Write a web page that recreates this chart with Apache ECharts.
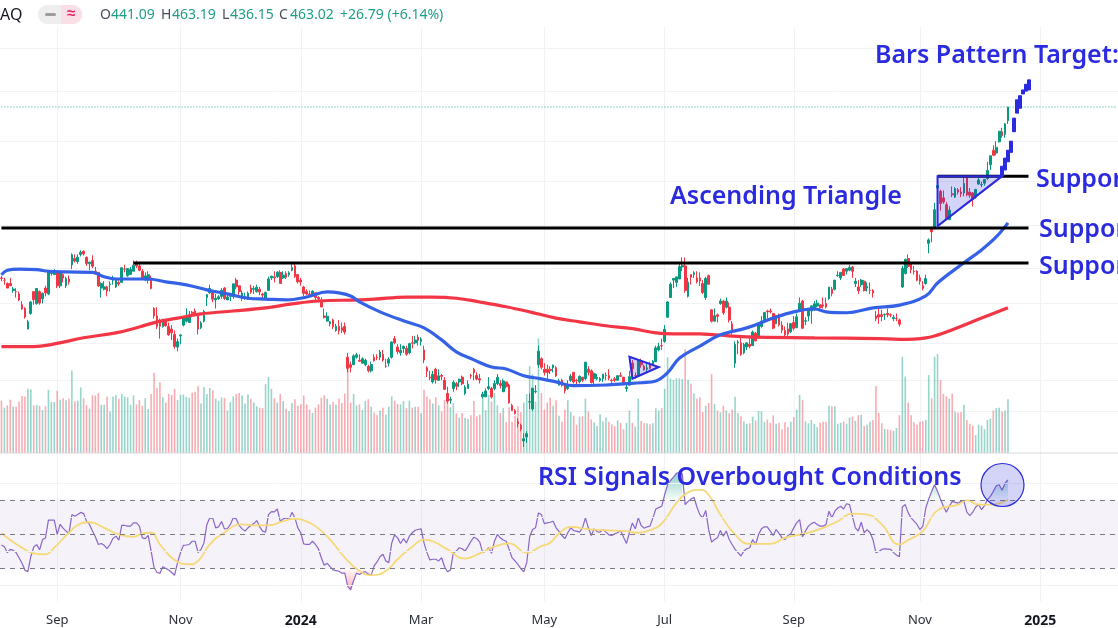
<!DOCTYPE html>
<html>
<head>
<meta charset="utf-8">
<title>TSLA</title>
<script src="https://cdn.jsdelivr.net/npm/echarts@6/dist/echarts.min.js"></script>
<style>
  html, body { margin: 0; padding: 0; background: #fff; }
  #main { width: 1118px; height: 628px; }
</style>
</head>
<body>
<div id="main"></div>
<script>
// one line per month, Aug 2023 -> Dec 2024
const opens = [
  252,250,247,247,241,240,238,229,226,210,222,240,230,240,234,243,238,256,255,
  257,245,255,245,251,264,270,267,274,277,271,265,268,258,257,243,242,244,246,250,
  244,248,248,260,254,255,258,266,263,258,250,250,252,226,220,215,212,216,212,210,206,197,
  205,213,216,215,223,224,220,211,216,235,239,239,233,234,236,243,233,236,236,250,245,
  234,235,234,243,242,240,242,238,234,241,252,253,253,257,252,256,255,259,263,255,
  250,244,240,238,237,239,235,231,220,216,214,217,209,212,211,212,190,185,185,190,188,
  186,185,184,181,190,190,190,192,184,186,190,203,197,193,196,196,193,200,200,204,
  201,195,183,177,174,182,175,178,175,167,163,170,173,174,177,167,170,178,182,178,
  176,165,165,170,170,170,173,173,168,174,172,160,157,151,149,141,143,162,158,168,185,189,
  182,182,182,183,183,172,175,173,170,175,180,175,174,177,176,182,181,176,176,175,176,178,
  178,175,176,175,178,177,170,172,186,178,178,187,184,182,185,185,187,195,198,
  201,219,235,250,248,251,262,263,236,255,255,252,252,247,235,254,225,216,221,230,232,227,
  227,214,186,200,200,193,197,199,198,207,205,212,217,224,224,222,214,219,213,209,210,208,
  215,211,224,232,216,220,224,225,228,229,229,230,234,242,242,254,252,260,258,259,
  262,247,244,246,249,243,241,241,220,221,221,221,222,221,218,218,217,244,256,270,265,258,258,
  252,245,247,285,300,300,347,343,335,327,310,340,336,345,342,341,360,342,341,336,
  352,351,353,359,377,397,393,409,424,420,441
];
const highs = [
  254,252,248,252,244,243,240,232,227,217,232,240,243,241,239,245,258,258,260,
  259,258,256,253,254,275,274,274,278,278,272,267,273,262,257,248,249,245,249,254,
  252,250,262,264,261,262,268,268,265,260,257,258,254,227,227,218,218,217,215,213,209,203,
  206,219,226,224,224,226,220,216,225,238,246,240,238,237,243,244,238,238,247,252,245,
  241,239,240,246,245,246,244,239,240,253,254,258,258,259,258,258,258,265,266,255,
  252,245,242,241,241,239,236,235,226,223,215,218,214,217,215,215,193,187,192,193,192,
  190,189,185,187,192,192,195,195,189,190,201,205,199,199,198,198,200,205,205,206,
  204,198,184,181,181,183,182,179,177,171,165,175,174,176,178,172,175,179,183,180,
  179,168,170,177,171,175,179,175,176,174,173,161,158,153,150,145,146,167,170,172,198,190,
  186,185,184,185,184,176,176,173,175,179,180,176,178,177,187,184,182,180,179,177,179,180,
  182,176,177,178,180,177,173,181,188,180,188,189,185,186,187,188,198,200,203,
  213,232,248,252,253,266,271,271,252,255,258,258,257,250,253,255,225,226,222,234,233,235,
  231,216,201,202,204,200,200,204,209,208,215,220,223,225,226,222,221,222,216,212,215,214,
  220,222,235,233,219,226,228,232,233,229,235,235,244,244,250,258,257,261,261,264,
  263,252,250,251,250,248,248,242,224,226,225,222,226,222,221,222,218,263,270,274,265,263,259,
  255,249,255,290,300,329,358,345,344,330,325,349,348,347,348,361,361,347,342,346,
  360,355,358,381,389,404,410,425,430,437,463
];
const lows = [
  249,246,243,245,239,235,232,225,218,212,221,229,229,229,230,236,237,254,255,
  243,243,248,243,246,260,266,265,272,273,263,259,261,255,244,235,241,236,240,246,
  243,245,248,257,253,255,258,261,258,251,249,247,242,218,210,203,211,212,205,202,196,194,
  199,212,215,215,219,220,206,210,215,228,238,231,226,233,234,233,233,232,234,242,236,
  232,233,233,238,238,239,237,234,234,241,250,248,252,247,251,251,253,258,252,247,
  245,236,237,235,236,233,231,227,218,216,212,210,208,206,207,206,180,180,185,189,187,
  186,184,180,180,187,188,188,187,183,184,189,199,192,191,193,191,192,196,199,198,
  198,186,177,175,173,173,175,175,169,161,161,168,169,171,172,166,170,176,175,175,
  173,164,165,169,164,169,172,170,168,170,161,157,155,148,146,138,140,158,157,167,183,182,
  178,176,179,180,177,172,171,167,169,174,173,172,173,174,175,178,173,172,175,174,174,175,
  175,172,174,175,177,173,168,172,178,176,177,183,181,180,182,185,187,194,195,
  200,219,235,243,244,251,258,239,235,246,252,247,245,238,233,246,215,216,215,229,221,226,
  215,206,183,192,191,192,195,196,198,201,204,211,217,218,222,210,214,212,207,203,205,207,
  209,211,223,210,213,216,214,224,227,224,226,226,233,236,241,253,250,254,255,258,
  252,244,238,244,240,240,238,235,216,214,216,217,219,219,216,216,212,243,255,261,256,255,249,
  246,241,246,275,286,300,343,320,328,310,310,336,335,339,336,337,337,335,325,334,
  351,348,350,357,370,390,390,408,415,415,436
];
const closes = [
  251.5,250,243,245,242.2,239.8,233,225.6,219.2,215.5,231.3,233.2,242.7,230.4,238.6,238.8,257.2,256.9,258.1,
  245,256.5,251.9,251.5,248.5,273.6,267.5,271.3,276,274.4,265.3,266.5,262.6,255.7,244.9,247,244.1,240.5,246.4,250.2,
  251.6,246.5,261.2,260,260.5,259.7,263.6,263,258.9,251.1,253.9,254.9,242.7,220.1,212,212.1,216.5,212.4,205.8,207.3,197.4,200.8,
  205.7,218.5,220,219.3,222.2,222.1,210,214.7,223.7,237.4,242.8,233.6,234.3,235.6,241.2,234.2,235.5,236.1,246.7,244.1,240.1,
  238.8,235.6,238.7,239.4,242.6,243.8,239.7,237,239.3,251.1,253.5,252.1,257.2,247.1,254.5,252.5,256.6,261.4,253.2,248.5,
  248.4,238.5,237.9,237.5,240.5,235,233.9,227.2,218.9,219.9,215.6,211.9,212.2,208.8,209.1,207.8,182.6,183.3,190.9,191.6,187.3,
  188.9,187.9,181.1,185.1,187.6,189.6,193.6,188.1,184,188.7,200.5,200,193.8,194.8,197.4,192,199.4,199.7,202,201.9,
  202.6,188.1,180.7,176.5,178.7,175.3,177.8,177.5,169.5,162.5,163.6,173.8,171.3,175.7,172.8,170.8,172.6,177.7,179.8,175.8,
  175.2,166.6,168.4,171.1,164.9,173,176.9,171.8,174.6,171.1,161.5,157.1,155.5,149.9,147.1,142.1,144.7,162.1,170.2,168.3,194.1,183.3,
  180,180,181.2,184.8,177.8,174.7,172,168.5,171.9,177.6,174,174.8,177.5,175,186.6,180.1,173.7,179.2,176.8,176.2,178.8,178.1,
  176.3,174.8,175,177.9,177.5,173.8,170.7,177.3,182.5,178,187.4,184.9,181.6,183,182.6,187.4,196.4,197.4,197.9,
  209.9,231.3,246.4,251.5,252.9,262.3,263.3,241,248.2,252.6,256.6,248.5,249.2,239.2,251.5,246.4,216,220.3,219.8,232.1,222.6,232.1,
  216.9,207.7,198.9,200.6,191.8,198.8,200,197.5,207.8,201.4,214.1,216.1,222.7,223.3,223.3,210.7,220.3,213.2,209.2,205.8,206.3,214.1,
  210.6,219.4,230.2,210.7,216.3,226.2,228.1,229.8,230.3,226.8,227.9,227.2,243.9,238.3,250,254.3,257,254.2,260.5,261.6,
  258,249,240.7,250,240.8,244.5,241,238.8,217.8,219.2,219.6,221.3,220.9,220.7,218.9,218,213.7,260.5,269.2,262.5,259.5,257.6,249.9,
  249,242.8,251.4,288.5,296.9,321.2,350,328.5,330.2,311.2,320.7,338.7,346,342,339.6,352.6,338.6,338.2,332.9,345.2,
  357.1,351.4,357.9,369.5,389.2,389.8,401,424.8,418.1,436.2,463
];
const volumes = [
  111,96,101,113,98,98,109,121,120,136,135,101,102,100,91,99,134,108,108,
  132,113,116,112,115,175,109,111,139,116,101,94,122,122,127,102,102,119,88,120,
  123,115,125,120,118,102,122,103,112,100,116,93,125,170,138,150,118,107,125,123,136,112,
  123,124,119,117,128,130,142,105,140,125,138,133,115,110,118,117,90,108,120,125,127,
  122,105,124,115,107,99,96,95,146,161,136,116,107,125,110,94,89,106,114,100,
  104,122,103,92,85,96,103,117,122,115,103,108,102,115,106,126,198,107,125,101,103,
  91,110,114,98,86,80,90,96,81,98,120,111,104,103,110,95,111,96,98,98,
  84,134,119,114,105,118,101,88,112,127,97,106,84,75,85,74,72,80,110,78,
  81,116,91,123,109,127,101,85,95,65,97,66,79,99,87,107,125,184,167,109,243,127,
  92,107,117,100,112,79,66,92,112,87,79,60,77,78,115,88,71,65,57,82,67,75,
  66,61,57,69,64,50,64,90,64,56,115,68,63,63,61,63,95,90,95,
  136,203,158,155,158,158,157,220,155,147,126,115,118,87,100,106,167,104,90,86,100,90,
  84,92,119,85,78,67,62,63,77,69,89,88,66,71,64,80,62,64,50,65,55,66,
  76,92,123,112,67,63,70,62,55,64,66,66,100,99,99,62,64,67,62,75,
  77,68,80,81,57,60,66,70,142,85,63,51,50,49,47,53,80,204,162,107,80,65,60,
  66,68,70,165,116,204,210,155,125,120,115,126,88,86,87,102,70,62,58,38,
  60,58,50,70,73,90,95,96,88,90,114
];
const rsiValues = [
  43.8,42.8,39.3,41.2,40.6,39.3,36.3,33,29,28.1,37,42.6,44,41,47,47.9,58.4,58.4,58.4,50,
  56,53.7,52,50.6,61.7,60.7,61.7,63,62.3,57.8,55.9,52,48.6,44.1,44.7,43.6,41.6,44.1,47.7,49,
  46.7,55.3,55.3,54.9,54.9,56.8,56.8,54.9,48,47.5,49.4,40.2,30.5,27.6,27.2,31,30,29.1,27.6,26,
  33.4,39.3,43.6,43.8,44.1,46,46,39.3,41.2,45,55.9,59.8,59.6,53.9,54.5,57.6,53.3,53.5,55.9,59.8,
  59.2,55.3,53.3,52,53.9,55.3,56.4,58.2,54.5,52,51.4,61.7,63.5,63.3,65,57.8,59.2,59.8,58.8,63,
  59.8,53.9,51,44.5,44.1,44.1,46,44.1,41.6,36.3,31.9,33,31,29.1,28.7,28.3,27.2,27.2,19.4,17.4,
  22.7,27.2,26.4,27.6,28.1,26.6,26,31.5,33.8,36.9,38.3,34.4,33.4,45,49.8,48,44.7,47.5,45,49,
  51,52.5,52.9,53.3,45,39.3,35,35.4,35.4,34.4,36.3,31,28,29.1,39.3,40.2,42.2,41.6,40.2,43,
  46,48.4,47.5,45.5,39.3,40.2,42.2,38.9,46,50,48,46.7,46,41.2,36.3,34.4,32.4,29.9,28,33.4,
  48.6,52.9,53.9,62.7,61.7,56.4,56.8,57.2,57.8,53.9,51.8,49.4,47.5,51,53.9,52.3,52,51.4,53.9,59.8,
  53.9,49.4,53.3,51.6,51.4,52.9,51.4,49.8,49.4,50.4,51,52.3,48.4,44.7,51,56.8,53.3,59.8,55.3,53.7,
  54.5,54.9,59.8,65,65.8,66.6,73.4,79.3,81.8,83.8,86,86.5,85.7,67.6,69.5,70.9,71.9,66.2,61.7,59.8,
  64.2,52.9,45.5,47,48,52.3,49,52,47,44.1,41.2,39.3,37.3,40.2,41.6,42.2,47,44.1,50,53.3,
  54.5,54.5,52,49.4,52.9,50.6,48,47,49.4,50.4,53.9,56.8,58.8,48.6,52,54.9,56.4,57.2,55.9,54.9,
  54.9,55.9,63.7,59.8,63.7,65.6,66.6,65,68.1,67.6,60.7,53.9,52,57.2,51,52.9,51,47,39.3,40,
  41.2,41.6,41.4,41.2,39.3,37.9,36.9,66.2,67.6,62.7,59.8,57.8,55.9,52.9,54.9,65.6,70.9,75.4,79.3,75.4,
  70.9,66.6,63.1,66.6,69.5,68.9,68.5,69.5,69.5,63.1,61.1,63.1,66.2,67.6,64.6,67,70.5,72.4,75.4,78.7,
  79.3,76,80.2,82.2
];
const rsiMaPoints = [
  [0,51],[2,48],[7,42.2],[11,38.9],[15,38.3],[18,42.2],[23,51],[27,56.4],[30,57.2],[35,53.9],[40,50],[45,48.6],
  [48,50.6],[51,51],[54,44.1],[59,35],[64,32.4],[67,34.4],[71,44.1],[75,50],[82,55.9],[87,55.3],[91,55.3],[96,57.8],
  [100,59.2],[103,58.4],[107,54.9],[112,47],[117,36.3],[122,28.5],[126,26],[131,28.5],[135,35.4],[140,42.8],[144,47],
  [147,46],[152,41.2],[158,35.8],[163,38.9],[168,42.8],[173,44.7],[179,39.3],[184,43.2],[187,45.1],[190,50.6],[194,54.5],
  [199,53.3],[205,52.5],[213,52],[216,51],[221,52.5],[225,56.4],[230,68.5],[234,74.8],[238,76.3],[241,73.4],[245,61.7],
  [250,50],[255,44.5],[262,44.5],[267,48],[274,50.6],[280,53.9],[285,57.8],[290,62.3],[295,61.7],[300,55.9],[306,44.1],
  [309,46.7],[314,52],[319,64.2],[326,67.6],[329,70.1],[333,67.6],[337,67.6],[343,70.5]
];
const ma50Points = [
  [0,254.8],[2,259],[6,260],[12,259.5],[16,258],[22,257.4],[31,257],[35,253],[39,251],[45,251],[50,251],[56,248.5],
  [63,245.8],[70,241.5],[77,238],[84,234.4],[90,233.7],[97,233],[104,235.4],[111,239.7],[115,238.9],[119,236.3],
  [122,231.3],[129,223.3],[138,215.5],[144,210.9],[150,202.1],[155,193.7],[161,188.2],[167,183.5],[172,182.2],
  [178,177.9],[184,175.9],[189,174],[195,171.7],[206,172.1],[213,172.9],[218,173.5],[223,174.6],[227,179.8],[231,189.3],
  [238,197.7],[245,205.8],[254,210.9],[263,218.4],[270,223.3],[277,225.7],[281,223.3],[288,222.6],[297,226.5],
  [306,228.7],[315,236.3],[319,247.5],[328,265.9],[334,278.4],[339,291.5],[343,306.5]
];
const ma200Points = [
  [0,197.3],[11,197.3],[18,199.2],[28,203.6],[39,207.2],[47,211.6],[53,215.5],[60,218.4],[68,221.7],[79,224],[90,226.5],
  [99,229.7],[108,232.1],[122,233],[127,233.6],[138,235.4],[147,235.4],[155,234.4],[163,231.3],[172,227.4],[180,223.3],
  [189,218.4],[197,215.5],[206,212.5],[215,210.3],[223,207.2],[229,206.5],[238,206.5],[243,205.8],[254,204.3],[277,203.6],
  [299,203],[306,202.5],[315,203.6],[322,207.9],[334,218.4],[343,226.5]
];

// projected "bars pattern" after the breakout
const patternStart = 341;
const patternFrom = [362,370,381,394,424,453,461,485,490,492];
const patternTo = [375,386,397,410,445,475,482,492,502,510];

const supportUpper = [[319,362],[350,362]];
const supportMiddle = [[0,301],[350,301]];
const supportLower = [[45,265.7],[350,265.7]];
const priceLine = [[0,463.02],[380,463.02]];
const triangles = [
  [[319,362],[341,362],[319,303]],
  [[214,190.3],[224,183.5],[215,176]]
];

const gridPrices = [571,489,410,355,304,261,230,200,175,157];
const gridRsi = [80,60,40,20];
const rsiBands = [70,50,30];

const tickIndex = [19,61,102,143,185,226,270,313,354];
const tickLabels = ['Sep','Nov','2024','Mar','May','Jul','Sep','Nov','2025'];
const tickBold = ['2024','2025'];
const categories = [];
for (let i = 0; i < 381; i++) categories.push('d' + i);

const UP = '#089981', DOWN = '#f23645', BLUE = '#2a2adf';
const HEAD_GREEN = '#1f9e89';
const GRID_LINE = '#f0f2f6';
const TEXT_FONT = '"Noto Sans", sans-serif';

var myChart = echarts.init(document.getElementById('main')); // eslint-disable-line

const isTick = function (index) { return tickIndex.indexOf(index) >= 0; };
const hLines = function (vals) {
  return {
    silent: true, symbol: 'none', animation: false,
    label: {show: false},
    lineStyle: {color: GRID_LINE, width: 1, type: 'solid'},
    data: vals.map(function (v) { return {yAxis: v}; })
  };
};
const thinLine = function (data, color, width) {
  return {
    type: 'line', data: data, xAxisIndex: 0, yAxisIndex: 0, showSymbol: false, silent: true,
    smooth: 0.4, lineStyle: {color: color, width: width}, z: 4
  };
};
const straightLine = function (data) {
  return {
    type: 'line', data: data, xAxisIndex: 0, yAxisIndex: 0, showSymbol: false, silent: true,
    lineStyle: {color: '#000', width: 3}, z: 5
  };
};

const candleData = opens.map(function (o, i) { return [o, closes[i], lows[i], highs[i]]; });
const patternData = categories.map(function (c, i) {
  const k = i - patternStart;
  if (k < 0 || k >= patternFrom.length) return ['-', '-', '-', '-'];
  return [patternFrom[k], patternTo[k], patternFrom[k], patternTo[k]];
});
const rsiOver = rsiValues.map(function (v) { return v > 70 ? v : null; });
const rsiUnder = rsiValues.map(function (v) { return v < 30 ? v : null; });

const headText = function (text, x, color) {
  return {type: 'text', x: x, y: 15, z: 52, style: {text: text, fill: color, font: '14px ' + TEXT_FONT, verticalAlign: 'middle'}};
};
const noteText = function (text, x, y) {
  return {type: 'text', x: x, y: y, z: 60, style: {text: text, fill: BLUE, font: '600 25px ' + TEXT_FONT, verticalAlign: 'middle'}};
};

const option = {
  animation: false,
  grid: [
    {left: -1, width: 1119, top: 0, height: 453},
    {left: -1, width: 1119, top: 453, height: 150}
  ],
  xAxis: [
    {
      type: 'category', gridIndex: 0, data: categories,
      axisLine: {show: false}, axisTick: {show: false}, axisLabel: {show: false},
      splitLine: {show: true, interval: isTick, alignWithLabel: true, lineStyle: {color: GRID_LINE}}
    },
    {
      type: 'category', gridIndex: 1, data: categories,
      axisLine: {show: false}, axisTick: {show: false},
      axisLabel: {
        interval: isTick, margin: 12, fontSize: 13, color: '#2a2e39', fontFamily: TEXT_FONT,
        formatter: function (value, index) {
          const label = tickLabels[tickIndex.indexOf(index)];
          return tickBold.indexOf(label) >= 0 ? '{b|' + label + '}' : label;
        },
        rich: {b: {fontWeight: 'bold', fontSize: 14, color: '#131722', fontFamily: TEXT_FONT}}
      },
      splitLine: {show: true, interval: isTick, alignWithLabel: true, lineStyle: {color: GRID_LINE}}
    }
  ],
  yAxis: [
    {type: 'log', gridIndex: 0, min: 135.1, max: 677.7, show: false, splitLine: {show: false}},
    {type: 'value', gridIndex: 0, min: 0, max: 960, show: false, splitLine: {show: false}},
    {type: 'value', gridIndex: 1, min: 10.2, max: 98, show: false, splitLine: {show: false}}
  ],
  series: [
    {
      type: 'bar', data: volumes, xAxisIndex: 0, yAxisIndex: 1, barWidth: 1.6, silent: true, z: 1,
      itemStyle: {
        opacity: 0.42,
        color: function (p) { return closes[p.dataIndex] >= opens[p.dataIndex] ? UP : DOWN; }
      }
    },
    {
      type: 'candlestick', data: candleData, xAxisIndex: 0, yAxisIndex: 0, barWidth: 2.2, silent: true, z: 3,
      itemStyle: {color: UP, color0: DOWN, borderColor: UP, borderColor0: DOWN, borderWidth: 1},
      markLine: Object.assign(hLines(gridPrices), {z: 1})
    },
    {
      type: 'line', data: priceLine, xAxisIndex: 0, yAxisIndex: 0, showSymbol: false, silent: true, z: 2,
      lineStyle: {color: '#26a69a', width: 1, type: [1, 2]}
    },
    thinLine(ma200Points, '#f23645', 3.2),
    thinLine(ma50Points, '#3461e6', 3.2),
    straightLine(supportUpper),
    straightLine(supportMiddle),
    straightLine(supportLower),
    {
      type: 'custom', xAxisIndex: 0, yAxisIndex: 0, silent: true, z: 6,
      data: triangles.map(function (t, i) { return [i]; }),
      encode: {x: 0},
      clip: false,
      renderItem: function (params, api) {
        return {
          type: 'polygon',
          shape: {points: triangles[params.dataIndex].map(function (v) { return api.coord(v); })},
          style: {fill: 'rgba(42,42,223,0.2)', stroke: BLUE, lineWidth: 2}
        };
      }
    },
    {
      type: 'candlestick', data: patternData, xAxisIndex: 0, yAxisIndex: 0, barWidth: 3.5, silent: true, z: 7,
      itemStyle: {color: BLUE, color0: BLUE, borderColor: BLUE, borderColor0: BLUE, borderWidth: 1}
    },
    {
      type: 'line', data: rsiOver, xAxisIndex: 1, yAxisIndex: 2, showSymbol: false, silent: true, z: 2,
      connectNulls: false, lineStyle: {width: 0},
      areaStyle: {
        origin: 70,
        color: {type: 'linear', x: 0, y: 0, x2: 0, y2: 1, colorStops: [
          {offset: 0, color: 'rgba(8,153,129,0.65)'}, {offset: 1, color: 'rgba(8,153,129,0.03)'}
        ]}
      }
    },
    {
      type: 'line', data: rsiUnder, xAxisIndex: 1, yAxisIndex: 2, showSymbol: false, silent: true, z: 2,
      connectNulls: false, lineStyle: {width: 0},
      areaStyle: {
        origin: 30,
        color: {type: 'linear', x: 0, y: 0, x2: 0, y2: 1, colorStops: [
          {offset: 0, color: 'rgba(242,54,69,0.03)'}, {offset: 1, color: 'rgba(242,54,69,0.55)'}
        ]}
      }
    },
    {
      type: 'line', data: rsiValues, xAxisIndex: 1, yAxisIndex: 2, showSymbol: false, silent: true, z: 3,
      lineStyle: {color: '#7e57c2', width: 1.2, opacity: 0.9},
      markArea: {
        silent: true,
        itemStyle: {color: 'rgba(126,87,194,0.08)'},
        data: [[{yAxis: 70}, {yAxis: 30}]]
      },
      markLine: {
        silent: true, symbol: 'none', label: {show: false},
        lineStyle: {color: '#787b86', width: 1, type: [5, 5]},
        data: rsiBands.map(function (v) { return {yAxis: v}; })
      }
    },
    {
      type: 'line', data: [], xAxisIndex: 1, yAxisIndex: 2, silent: true, markLine: hLines(gridRsi)
    },
    {
      type: 'line', data: rsiMaPoints, xAxisIndex: 1, yAxisIndex: 2, showSymbol: false, silent: true, z: 4,
      smooth: 0.5, lineStyle: {color: '#f6d976', width: 1.8}
    }
  ],
  graphic: [
    {type: 'rect', shape: {x: 0, y: 0, width: 1118, height: 27}, style: {fill: '#fff'}, z: 50},
    {type: 'line', shape: {x1: 0, y1: 453, x2: 1118, y2: 453}, style: {stroke: '#d9d9dc', lineWidth: 1}, z: 50},
    {type: 'text', x: 0, y: 15, z: 51, style: {text: 'AQ', fill: '#131722', font: '16px ' + TEXT_FONT, verticalAlign: 'middle'}},
    {type: 'rect', shape: {x: 38, y: 5, width: 44, height: 19, r: 9}, style: {fill: '#eeeeef'}, z: 51},
    {type: 'rect', shape: {x: 61, y: 5, width: 21, height: 19, r: [0, 9, 9, 0]}, style: {fill: '#fbdfe6'}, z: 51},
    {type: 'rect', shape: {x: 45, y: 13, width: 11, height: 3, r: 1.5}, style: {fill: '#9b9ba0'}, z: 52},
    {type: 'text', x: 71, y: 14, z: 52, style: {text: '\u2248', fill: '#e91e63', font: 'bold 15px ' + TEXT_FONT, align: 'center', verticalAlign: 'middle'}},
    headText('O', 100, '#4a4e59'), headText('441.09', 111, HEAD_GREEN),
    headText('H', 161, '#4a4e59'), headText('463.19', 172, HEAD_GREEN),
    headText('L', 222, '#4a4e59'), headText('436.15', 230, HEAD_GREEN),
    headText('C', 279, '#4a4e59'), headText('463.02', 290, HEAD_GREEN),
    headText('+26.79 (+6.14%)', 340, HEAD_GREEN),
    noteText('Bars Pattern Target:', 875, 55.5),
    noteText('Ascending Triangle', 670, 196.5),
    noteText('Support', 1036, 179.5),
    noteText('Support', 1039, 230),
    noteText('Support', 1039, 267),
    noteText('RSI Signals Overbought Conditions', 538, 477.5),
    {type: 'circle', shape: {cx: 1002.5, cy: 485, r: 21.5}, style: {fill: 'rgba(42,42,223,0.2)', stroke: BLUE, lineWidth: 1.2}, z: 60}
  ]
};

myChart.setOption(option);
</script>
</body>
</html>
